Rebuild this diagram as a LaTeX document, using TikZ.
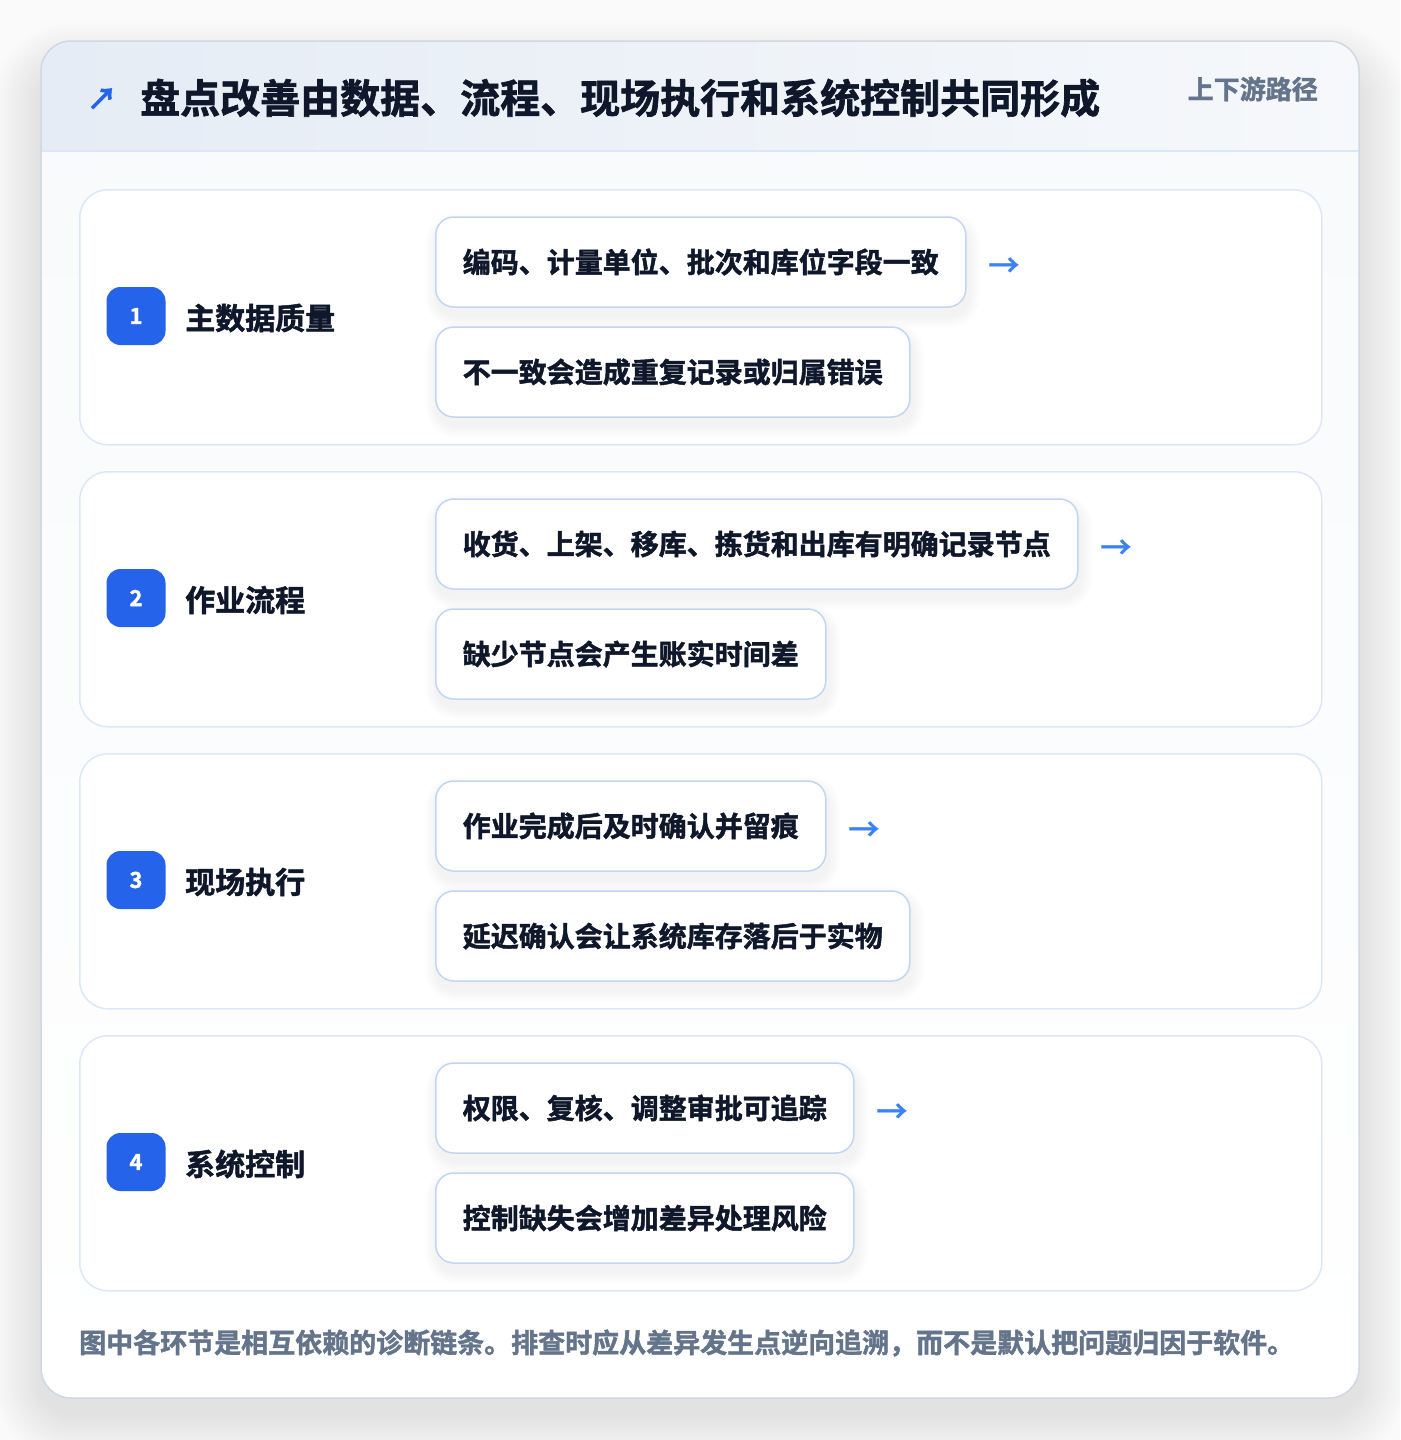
\documentclass[tikz,border=0pt]{standalone}
\usepackage{fontspec}
\setmainfont{Noto Sans CJK SC}[BoldFont={Noto Sans CJK SC Bold},BoldFeatures={FakeBold=1.6}]
\newfontfamily\arrowfont{Noto Sans CJK SC Bold}
\definecolor{ink}{HTML}{0F172A}
\definecolor{slate}{HTML}{64748B}
\definecolor{badgeblue}{HTML}{2563EB}
\definecolor{arrowblue}{HTML}{3B82F6}
\definecolor{cardborder}{HTML}{DCE8F8}
\definecolor{boxborder}{HTML}{C2D6F2}
\definecolor{outerborder}{HTML}{CFD8E3}
\definecolor{pagebg}{HTML}{FAFAFA}
\definecolor{hdrL}{HTML}{E5ECF5}
\definecolor{hdrR}{HTML}{F6F8FB}
\definecolor{bodytop}{HTML}{F8FAFC}
\definecolor{sepline}{HTML}{DBE7F8}
\definecolor{shadowc}{HTML}{1E293B}
\pgfdeclarelayer{bg}
\pgfdeclarelayer{mid}
\pgfsetlayers{bg,mid,main}
\tikzset{
  cardbox/.style={draw=cardborder, line width=1.5pt, fill=white, rounded corners=28pt, anchor=north west, minimum width=1242pt, minimum height=255pt, inner sep=0pt},
  badgebox/.style={fill=badgeblue, text=white, rounded corners=14pt, minimum width=59pt, minimum height=58pt, inner sep=0pt, font=\fontsize{22}{26}\selectfont\bfseries},
  labeltext/.style={anchor=west, inner sep=0pt, text=ink, font=\fontsize{30}{36}\selectfont\bfseries},
  itembox/.style={draw=boxborder, line width=1.5pt, fill=white, rounded corners=18pt, anchor=west, inner xsep=27pt, inner ysep=0pt, minimum height=90pt, text=ink, font=\fontsize{28}{34}\selectfont\bfseries},
  arrowtext/.style={anchor=west, inner sep=0pt, text=arrowblue, font=\fontsize{32}{38}\arrowfont}
}
\newcommand{\itemshadow}[1]{%
  \foreach \k in {1,...,12}{%
    \fill[shadowc, opacity=0.005, rounded corners=18pt+\k pt]
      ([xshift=-\k pt+2pt, yshift=\k pt-8pt]#1.north west) rectangle ([xshift=\k pt+2pt, yshift=-\k pt-8pt]#1.south east);
  }%
}
\begin{document}
\begin{tikzpicture}[x=1pt,y=-1pt]
\useasboundingbox (0,0) rectangle (1400,1440);
\begin{pgfonlayer}{bg}
\fill[pagebg] (0,0) rectangle (1400,1440);
% outer card shadow
\foreach \k in {1,...,24}{
  \fill[shadowc, opacity=0.0045, rounded corners=30pt+2*\k pt] (41-2*\k, 41-2*\k+30) rectangle (1359+2*\k, 1398+2*\k+16);
}
\fill[white, rounded corners=30pt] (41,41) rectangle (1359,1398);
\begin{scope}
  \clip[rounded corners=30pt] (41,41) rectangle (1359,1398);
  \shade[left color=hdrL, right color=hdrR] (41,41) rectangle (1359,151);
  \shade[top color=bodytop, bottom color=white] (41,151) rectangle (1359,1398);
  \draw[sepline, line width=1.5pt] (41,151) -- (1359,151);
\end{scope}
\draw[outerborder, line width=1.5pt, rounded corners=30pt] (41,41) rectangle (1359,1398);
\end{pgfonlayer}
% header
\node[anchor=center, inner sep=0pt, text=badgeblue, font=\fontsize{30}{36}\selectfont\bfseries] (icon) at (102,99) {↗};
\node[anchor=west, inner sep=0pt, text=ink, font=\fontsize{40}{48}\selectfont\bfseries] (title) at (140,98) {盘点改善由数据、流程、现场执行和系统控制共同形成};
\node[anchor=east, inner sep=0pt, text=slate, font=\fontsize{26}{32}\selectfont\bfseries] (tag) at (1318,89) {上下游路径};
% cards on bg layer
\begin{pgfonlayer}{bg}
\node[cardbox] (c1) at (79,189) {};
\node[cardbox] (c2) at (79,471) {};
\node[cardbox] (c3) at (79,753) {};
\node[cardbox] (c4) at (79,1035) {};
\end{pgfonlayer}
% section 1
\node[badgebox] (b1) at (136,316) {\raisebox{-2pt}{1}};
\node[labeltext] (l1) at (185,318) {主数据质量};
\node[itembox] (i1a) at (435,262) {编码、计量单位、批次和库位字段一致};
\node[itembox] (i1b) at (435,372) {不一致会造成重复记录或归属错误};
\node[arrowtext] (a1) at ([xshift=22pt,yshift=-6pt]i1a.east) {→};
% section 2
\node[badgebox] (b2) at (136,598) {\raisebox{-2pt}{2}};
\node[labeltext] (l2) at (185,600) {作业流程};
\node[itembox] (i2a) at (435,544) {收货、上架、移库、拣货和出库有明确记录节点};
\node[itembox] (i2b) at (435,654) {缺少节点会产生账实时间差};
\node[arrowtext] (a2) at ([xshift=22pt,yshift=-6pt]i2a.east) {→};
% section 3
\node[badgebox] (b3) at (136,880) {\raisebox{-2pt}{3}};
\node[labeltext] (l3) at (185,882) {现场执行};
\node[itembox] (i3a) at (435,826) {作业完成后及时确认并留痕};
\node[itembox] (i3b) at (435,936) {延迟确认会让系统库存落后于实物};
\node[arrowtext] (a3) at ([xshift=22pt,yshift=-6pt]i3a.east) {→};
% section 4
\node[badgebox] (b4) at (136,1162) {\raisebox{-2pt}{4}};
\node[labeltext] (l4) at (185,1164) {系统控制};
\node[itembox] (i4a) at (435,1108) {权限、复核、调整审批可追踪};
\node[itembox] (i4b) at (435,1218) {控制缺失会增加差异处理风险};
\node[arrowtext] (a4) at ([xshift=22pt,yshift=-6pt]i4a.east) {→};
% item shadows
\begin{pgfonlayer}{mid}
\itemshadow{i1a}\itemshadow{i1b}
\itemshadow{i2a}\itemshadow{i2b}
\itemshadow{i3a}\itemshadow{i3b}
\itemshadow{i4a}\itemshadow{i4b}
\end{pgfonlayer}
% footer
\node[anchor=west, inner sep=0pt, text=slate, font=\fontsize{27}{32}\selectfont\bfseries] (foot) at (79,1343) {图中各环节是相互依赖的诊断链条。排查时应从差异发生点逆向追溯，而不是默认把问题归因于软件。};
\end{tikzpicture}
\end{document}
